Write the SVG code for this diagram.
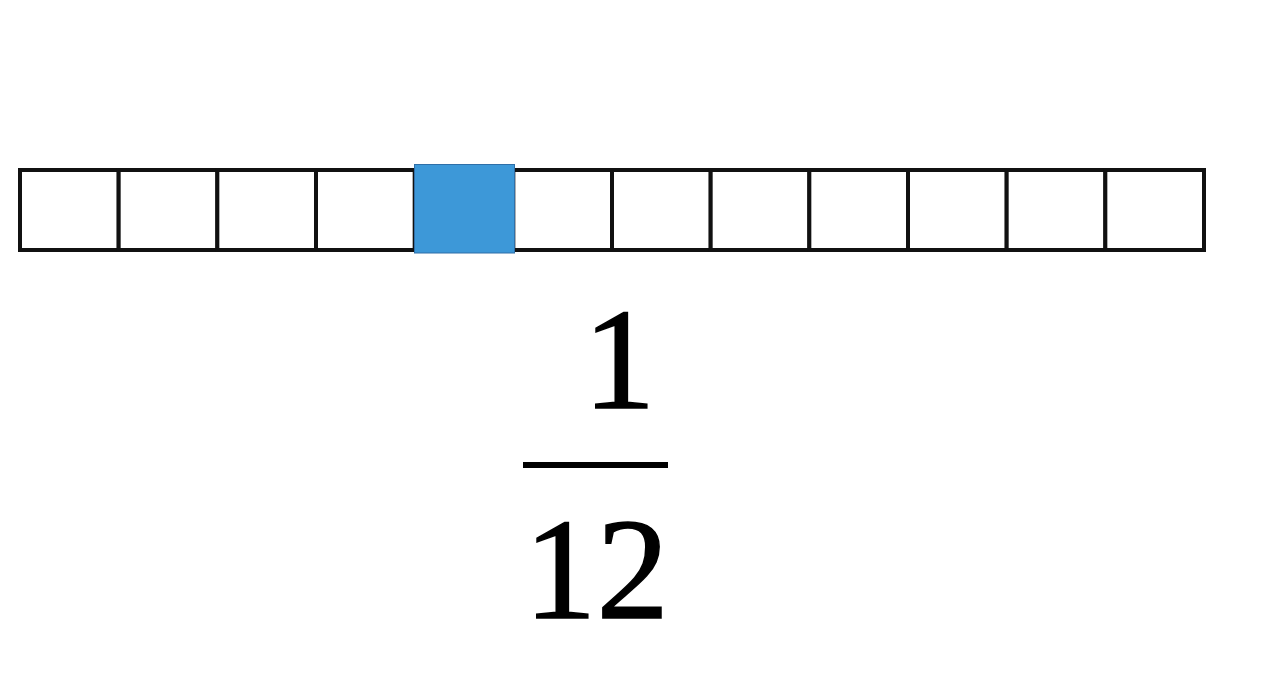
<svg xmlns="http://www.w3.org/2000/svg" width="1269" height="674" viewBox="0 0 1269 674">
<style>
.cell{fill:#ffffff;stroke:#111111;stroke-width:4}
.shaded{fill:#3d98d8;stroke:#2f6fa8;stroke-width:1}
.num{font-family:"Liberation Serif","Times New Roman",serif;font-size:145px;fill:#000000;stroke:#000000;stroke-width:1.5}
</style>
<rect width="1269" height="674" fill="#ffffff"/>
<g id="strip">
<rect class="cell" x="20" y="170" width="98.67" height="80"/>
<rect class="cell" x="118.67" y="170" width="98.67" height="80"/>
<rect class="cell" x="217.33" y="170" width="98.67" height="80"/>
<rect class="cell" x="316" y="170" width="98.67" height="80"/>
<rect class="cell" x="513.33" y="170" width="98.67" height="80"/>
<rect class="cell" x="612" y="170" width="98.67" height="80"/>
<rect class="cell" x="710.67" y="170" width="98.67" height="80"/>
<rect class="cell" x="809.33" y="170" width="98.67" height="80"/>
<rect class="cell" x="908" y="170" width="98.67" height="80"/>
<rect class="cell" x="1006.67" y="170" width="98.67" height="80"/>
<rect class="cell" x="1105.33" y="170" width="98.67" height="80"/>
</g>
<g id="shaded-cell">
<rect class="shaded" x="414.5" y="164.5" width="100" height="88.5"/>
</g>
<g id="fraction">
<text class="num" x="583" y="408">1</text>
<rect x="523" y="462" width="145" height="6" fill="#000000"/>
<text class="num" x="524" y="618">12</text>
</g>
</svg>
